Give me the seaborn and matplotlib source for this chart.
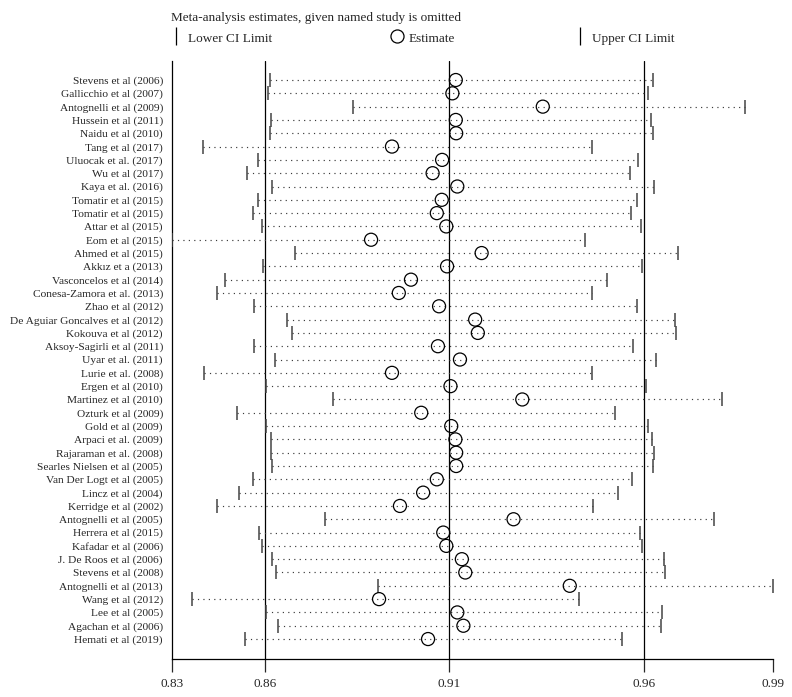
import numpy as np
import seaborn as sns
import matplotlib.pyplot as plt
from matplotlib.lines import Line2D

# %% data
studies = ['Stevens et al (2006)', 'Gallicchio et al (2007)', 'Antognelli et al (2009)',
           'Hussein et al (2011)', 'Naidu et al (2010)', 'Tang et al (2017)',
           'Uluocak et al. (2017)', 'Wu et al (2017)', 'Kaya et al. (2016)',
           'Tomatir et al (2015)', 'Tomatir et al (2015)', 'Attar et al (2015)',
           'Eom et al (2015)', 'Ahmed et al (2015)', 'Akkız et a (2013)',
           'Vasconcelos et al (2014)', 'Conesa-Zamora et al. (2013)', 'Zhao et al (2012)',
           'De Aguiar Goncalves et al (2012)', 'Kokouva et al (2012)',
           'Aksoy-Sagirli et al (2011)', 'Uyar et al. (2011)', 'Lurie et al. (2008)',
           'Ergen et al (2010)', 'Martinez et al (2010)', 'Ozturk et al (2009)',
           'Gold et al (2009)', 'Arpaci et al. (2009)', 'Rajaraman et al. (2008)',
           'Searles Nielsen et al (2005)', 'Van Der Logt et al (2005)', 'Lincz et al (2004)',
           'Kerridge et al (2002)', 'Antognelli et al (2005)', 'Herrera et al (2015)',
           'Kafadar et al (2006)', 'J. De Roos et al (2006)', 'Stevens et al (2008)',
           'Antognelli et al (2013)', 'Wang et al (2012)', 'Lee et al (2005)',
           'Agachan et al (2006)', 'Hemati et al (2019)']

lower = [0.8599, 0.8593, 0.8817, 0.8602, 0.8600, 0.8423, 0.8568, 0.8538, 0.8604,
         0.8567, 0.8553, 0.8578, 0.8341, 0.8665, 0.8580, 0.8481, 0.8460, 0.8556,
         0.8644, 0.8657, 0.8556, 0.8612, 0.8425, 0.8589, 0.8766, 0.8513, 0.8589,
         0.8601, 0.8601, 0.8604, 0.8553, 0.8518, 0.8460, 0.8745, 0.8569, 0.8578,
         0.8604, 0.8616, 0.8882, 0.8393, 0.8588, 0.8620, 0.8533]

estimate = [0.9088, 0.9079, 0.9317, 0.9088, 0.9089, 0.8920, 0.9052, 0.9027, 0.9092,
            0.9051, 0.9038, 0.9063, 0.8865, 0.9156, 0.9065, 0.8970, 0.8938, 0.9044,
            0.9139, 0.9146, 0.9041, 0.9099, 0.8920, 0.9074, 0.9263, 0.8997, 0.9076,
            0.9087, 0.9089, 0.9089, 0.9038, 0.9002, 0.8941, 0.9240, 0.9055, 0.9063,
            0.9104, 0.9113, 0.9388, 0.8886, 0.9092, 0.9108, 0.9015]

upper = [0.9607, 0.9593, 0.9848, 0.9603, 0.9607, 0.9446, 0.9567, 0.9546, 0.9610,
         0.9564, 0.9548, 0.9575, 0.9428, 0.9673, 0.9579, 0.9487, 0.9446, 0.9564,
         0.9665, 0.9667, 0.9555, 0.9614, 0.9446, 0.9589, 0.9790, 0.9508, 0.9595,
         0.9605, 0.9609, 0.9606, 0.9552, 0.9515, 0.9450, 0.9767, 0.9572, 0.9577,
         0.9635, 0.9640, 0.9923, 0.9412, 0.9630, 0.9628, 0.9525]

# pooled estimate with all studies
overall = [0.8586, 0.9070, 0.9583]

# %% plot
sns.set_style("white")
plt.rcParams['font.family'] = ['Liberation Serif', 'DejaVu Serif']

fig = plt.figure(figsize=(7.92, 6.97), dpi=100)
ax = fig.add_axes([0.2172, 0.0545, 0.7588, 0.858])

ypos = np.arange(len(studies))
xmin, xmax = min(lower), max(upper)

# reference lines for the overall estimate and its CI
for v in overall:
    ax.axvline(v, color='black', lw=0.9, zorder=1)

# dotted CI lines
ax.hlines(ypos, lower, upper, colors='#3a3a3a', linestyles=(0, (1, 3.6)), lw=0.85, zorder=2)

# CI limit ticks
ax.plot(lower, ypos, ls='none', marker='|', ms=9.5, mew=1.1, color='#444444', zorder=3)
ax.plot(upper, ypos, ls='none', marker='|', ms=9.5, mew=1.1, color='#444444', zorder=3)

# estimates
sns.scatterplot(x=estimate, y=ypos, ax=ax, marker='o', s=88, facecolor='none',
                edgecolor='black', linewidth=0.9, zorder=4, legend=False)

ax.set_xlim(xmin, xmax)
ax.set_ylim(len(studies) - 1 + 1.5, -1.43)

ticks = [xmin] + overall + [xmax]
ax.set_xticks(ticks)
ax.set_xticklabels(['%.2f' % t for t in ticks], fontsize=9.5)
ax.set_yticks(ypos)
ax.set_yticklabels(studies, fontsize=8.2)

ax.tick_params(axis='x', direction='out', length=9.4, width=0.9, pad=4.5, bottom=True)
ax.tick_params(axis='y', length=0, pad=6.5)

for side in ['top', 'right']:
    ax.spines[side].set_visible(False)
for side in ['left', 'bottom']:
    ax.spines[side].set_linewidth(0.9)
    ax.spines[side].set_color('black')

# legend at the top
handles = [
    Line2D([], [], ls='none', marker='|', ms=13, mew=0.9, color='black', label='Lower CI Limit'),
    Line2D([], [], ls='none', marker='o', ms=9.4, mfc='none', mec='black', mew=0.9, label='Estimate'),
    Line2D([], [], ls='none', marker='|', ms=13, mew=0.9, color='black', label='Upper CI Limit'),
]
leg = fig.legend(handles=handles, loc='upper left', bbox_to_anchor=(0.207, 0.992), ncol=3,
                 frameon=False, fontsize=9.5, handlelength=0.9, handletextpad=0.45,
                 columnspacing=9.0, borderpad=0, handleheight=1.1,
                 title='Meta-analysis estimates, given named study is omitted',
                 title_fontsize=9.5, alignment='left')

fig.savefig('out.png', dpi=100)
